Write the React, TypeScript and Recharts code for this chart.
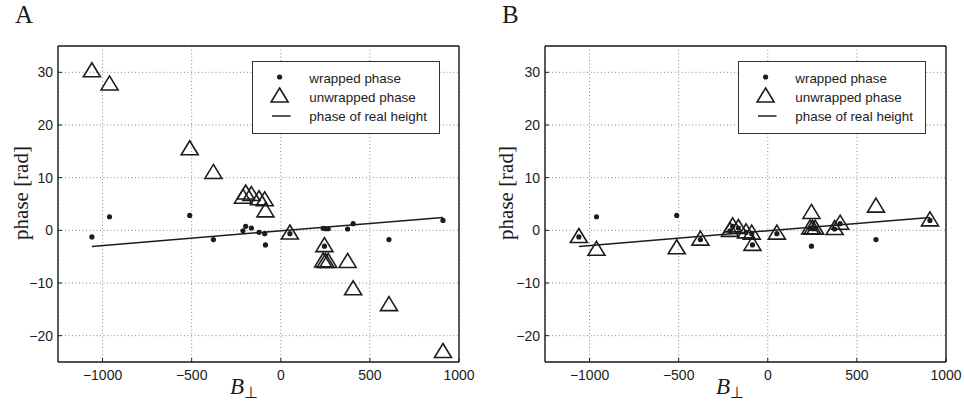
import React from 'react';
import { ScatterChart, Scatter, XAxis, YAxis, CartesianGrid, Legend } from 'recharts';

// Perpendicular baselines (B⊥) of the interferograms
const bPerp = [-1060, -961, -511, -378, -212, -197, -165, -122, -90, -86, 51, 238, 245, 251, 266, 375, 406, 607, 910];
// wrapped phase (same in both panels)
const wrappedPhase = [-1.26, 2.58, 2.84, -1.76, -0.1, 0.76, 0.44, -0.38, -0.63, -2.77, -0.63, 0.38, -3.0, 0.3, 0.3, 0.25, 1.26, -1.76, 1.89];
// unwrapped phase, panel A
const unwrappedA = [30.2, 27.7, 15.4, 10.9, 6.2, 7.0, 6.7, 5.9, 5.7, 3.6, -0.6, -5.9, -3.0, -6.0, -6.0, -6.0, -11.2, -14.2, -23.1];
// unwrapped phase, panel B
const unwrappedB = [-1.26, -3.7, -3.4, -1.76, -0.1, 0.76, 0.44, -0.38, -0.63, -2.77, -0.63, 0.38, 3.3, 0.3, 0.3, 0.25, 1.26, 4.5, 1.89];
// phase of real height (straight line)
const heightLineB = [-1060, 910];
const heightLinePhase = [-3.05, 2.45];

const xTicks = [-1000, -500, 0, 500, 1000];
const yTicks = [-20, -10, 0, 10, 20, 30];
const xDomain = [-1250, 1000];
const yDomain = [-25, 35];
const legendLabels = ['wrapped phase', 'unwrapped phase', 'phase of real height'];
const panelTitles = ['A', 'B'];

const INK = '#1c1c1c';
const SANS = 'Liberation Sans, Arial, sans-serif';
const SERIF = 'Liberation Serif, Times New Roman, serif';

const fmt = (v: number) => String(v).replace('-', '\u2212');

const Dot = (p: any) => <circle cx={p.cx} cy={p.cy} r={2.6} fill={INK} />;
const Tri = (p: any) => (
  <polygon
    points={`${p.cx},${p.cy - 8.5} ${p.cx + 8.5},${p.cy + 5.5} ${p.cx - 8.5},${p.cy + 5.5}`}
    fill="none"
    stroke={INK}
    strokeWidth={1.6}
  />
);
const NoShape = () => <g />;

const LegendBox = () => (
  <svg width={188} height={73} style={{ display: 'block' }}>
    <rect x={0.5} y={0.5} width={187} height={72} fill="#fff" stroke="#333" strokeWidth={1} />
    <circle cx={27.6} cy={16} r={2.6} fill={INK} />
    <polygon points="27.6,27 36.1,41 19.1,41" fill="none" stroke={INK} strokeWidth={1.6} />
    <line x1={20} x2={38.5} y1={55} y2={55} stroke={INK} strokeWidth={1.5} />
    {legendLabels.map((t, i) => (
      <text key={t} x={57.3} y={22.3 + i * 18.9} style={{ fontSize: 13.4, fontFamily: SANS }} fill={INK}>
        {t}
      </text>
    ))}
  </svg>
);

function Panel({ unwrapped, left, margin, legendLeft }: any) {
  const wrapped = bPerp.map((x, i) => ({ x, y: wrappedPhase[i] }));
  const unw = bPerp.map((x, i) => ({ x, y: unwrapped[i] }));
  const line = heightLineB.map((x, i) => ({ x, y: heightLinePhase[i] }));
  const tickStyle = { fill: INK, fontSize: 14, fontFamily: SANS };
  const axisLine = { stroke: INK, strokeWidth: 1.4 };
  return (
    <div style={{ position: 'absolute', left, top: 0 }}>
      <ScatterChart width={482} height={402} margin={margin}>
        <CartesianGrid xAxisId="x" yAxisId="y" stroke="#8a8a8a" strokeDasharray="1 2.5" />
        <XAxis xAxisId="x" type="number" dataKey="x" domain={xDomain} ticks={xTicks} allowDataOverflow interval={0}
          height={1} tickLine={{ stroke: INK }} tickSize={-4} tickMargin={12} axisLine={axisLine}
          tick={tickStyle} tickFormatter={fmt} />
        <XAxis xAxisId="xt" orientation="top" type="number" dataKey="x" domain={xDomain} ticks={xTicks} allowDataOverflow interval={0}
          height={1} tick={false} tickSize={-4} tickLine={{ stroke: INK }} axisLine={axisLine} />
        <YAxis yAxisId="y" type="number" dataKey="y" domain={yDomain} ticks={yTicks} allowDataOverflow interval={0}
          width={1} tickLine={{ stroke: INK }} tickSize={-4} tickMargin={9} axisLine={axisLine}
          tick={tickStyle} tickFormatter={fmt} />
        <YAxis yAxisId="yr" orientation="right" type="number" dataKey="y" domain={yDomain} ticks={yTicks} allowDataOverflow interval={0}
          width={1} tick={false} tickSize={-4} tickLine={{ stroke: INK }} axisLine={axisLine} />
        <Legend layout="vertical" align="center" verticalAlign="middle" content={LegendBox}
          wrapperStyle={{ left: legendLeft, top: 61, width: 188, height: 73 }} />
        <Scatter name={legendLabels[0]} xAxisId="x" yAxisId="y" data={wrapped} shape={Dot} isAnimationActive={false} />
        <Scatter name={legendLabels[1]} xAxisId="x" yAxisId="y" data={unw} shape={Tri} isAnimationActive={false} />
        <Scatter name={legendLabels[2]} xAxisId="x" yAxisId="y" data={line} shape={NoShape}
          line={{ stroke: INK, strokeWidth: 1.5 }} isAnimationActive={false} />
      </ScatterChart>
    </div>
  );
}

export default function App() {
  return (
    <div style={{ position: 'absolute', left: 0, top: 0, width: 964, height: 402, background: '#fff', overflow: 'hidden' }}>
      <Panel unwrapped={unwrappedA} left={0} margin={{ top: 45, right: 22, bottom: 39, left: 57 }} legendLeft={252} />
      <Panel unwrapped={unwrappedB} left={482} margin={{ top: 45, right: 17, bottom: 39, left: 62 }} legendLeft={256} />
      <svg width={964} height={402} style={{ position: 'absolute', left: 0, top: 0, pointerEvents: 'none' }}>
        <text x={15} y={23} style={{ fontSize: 25, fontFamily: SERIF }} fill={INK}>{panelTitles[0]}</text>
        <text x={502} y={23} style={{ fontSize: 25, fontFamily: SERIF }} fill={INK}>{panelTitles[1]}</text>
        <text x={27.5} y={193} transform="rotate(-90 27.5 193)" textAnchor="middle" style={{ fontSize: 21, fontFamily: SERIF }} fill={INK}>phase [rad]</text>
        <text x={513} y={193} transform="rotate(-90 513 193)" textAnchor="middle" style={{ fontSize: 21, fontFamily: SERIF }} fill={INK}>phase [rad]</text>
        <text x={230} y={394} style={{ fontSize: 23, fontFamily: SERIF }} fill={INK}>
          <tspan fontStyle="italic">B</tspan>
          <tspan style={{ fontSize: 16 }} dy={4}>⊥</tspan>
        </text>
        <text x={716} y={394} style={{ fontSize: 23, fontFamily: SERIF }} fill={INK}>
          <tspan fontStyle="italic">B</tspan>
          <tspan style={{ fontSize: 16 }} dy={4}>⊥</tspan>
        </text>
      </svg>
    </div>
  );
}
